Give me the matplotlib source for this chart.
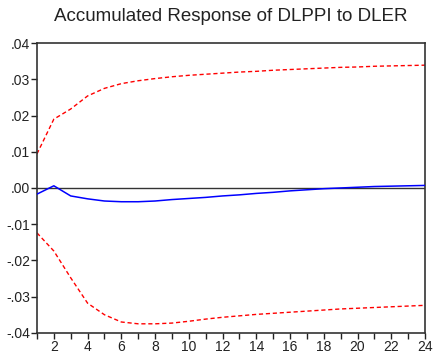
import numpy as np
import matplotlib.pyplot as plt
from matplotlib.ticker import FuncFormatter, MultipleLocator

plt.rcParams['font.family'] = ['Liberation Sans', 'DejaVu Sans']

periods = np.arange(1, 25)
response = [-0.0017, 0.0006, -0.0022, -0.0030, -0.0036, -0.0038, -0.0038, -0.0036,
            -0.0032, -0.0029, -0.0026, -0.0022, -0.0019, -0.0015, -0.0012, -0.0008,
            -0.0005, -0.0002, 0.0000, 0.0002, 0.0004, 0.0005, 0.0006, 0.0007]
upper = [0.0094, 0.0190, 0.0218, 0.0254, 0.0275, 0.0288, 0.0296, 0.0302,
         0.0307, 0.0311, 0.0314, 0.0317, 0.0320, 0.0322, 0.0325, 0.0327,
         0.0329, 0.0331, 0.0333, 0.0334, 0.0336, 0.0337, 0.0338, 0.0339]
lower = [-0.0124, -0.0174, -0.0248, -0.0318, -0.0350, -0.0370, -0.0375, -0.0375,
         -0.0373, -0.0368, -0.0362, -0.0357, -0.0353, -0.0349, -0.0346, -0.0343,
         -0.0340, -0.0337, -0.0334, -0.0332, -0.0330, -0.0328, -0.0326, -0.0324]
yticks = [-0.04, -0.03, -0.02, -0.01, 0.00, 0.01, 0.02, 0.03, 0.04]


def eviews_fmt(v, pos):
    # EViews style: drop the leading zero (".02", "-.01")
    s = '%.2f' % v
    if s.startswith('-0'):
        return '-' + s[2:]
    if s.startswith('0'):
        return s[1:]
    return s


fig = plt.figure(figsize=(4.4, 3.56), dpi=100)
ax = fig.add_axes([0.084, 0.065, 0.882, 0.814])

ax.axhline(0, color='#333333', linewidth=1.0, zorder=1)
ax.plot(periods, upper, color='#ff0000', linestyle=(0, (3, 2)), linewidth=1.0)
ax.plot(periods, lower, color='#ff0000', linestyle=(0, (3, 2)), linewidth=1.0)
ax.plot(periods, response, color='#0000ff', linewidth=1.1, zorder=3)

ax.set_xlim(1, 24)
ax.set_ylim(-0.04, 0.04)
ax.set_yticks(yticks)
ax.yaxis.set_major_formatter(FuncFormatter(eviews_fmt))
ax.xaxis.set_major_locator(MultipleLocator(1))
ax.xaxis.set_major_formatter(FuncFormatter(lambda v, p: str(int(v)) if int(v) % 2 == 0 else ''))

ax.tick_params(direction='out', length=4, width=1, labelsize=10, colors='#222222')
ax.tick_params(axis='y', pad=1)
ax.tick_params(axis='x', pad=1)
for sp in ax.spines.values():
    sp.set_color('#333333')
    sp.set_linewidth(1.2)

ax.set_title('Accumulated Response of DLPPI to DLER', fontsize=13.5, pad=16, color='#222222')

fig.savefig('out.png', dpi=100)
